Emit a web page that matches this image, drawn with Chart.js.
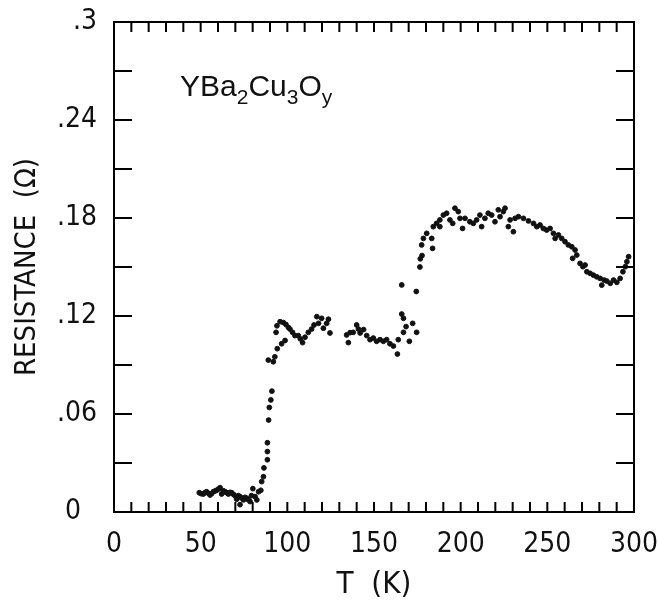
<!DOCTYPE html>
<html>
<head>
<meta charset="utf-8">
<script src="https://cdn.jsdelivr.net/npm/chart.js@4"></script>
<style>
  body { margin: 0; background: #fff; }
</style>
</head>
<body>
<canvas id="chart" width="658" height="604"></canvas>
<script>
// values: T (K) and resistance (ohm)
const temperature = [
  49.2, 50.3, 51.5, 52.4, 53.4, 54.4, 55.4, 56.3, 57.3, 58.2, 59.2, 60.2, 61.2, 62.1, 63.1, 64.1,
  65.0, 66.0, 67.0, 67.9, 68.9, 69.9, 70.8, 71.8, 72.7, 72.7, 73.7, 74.7, 75.6, 76.6, 77.5, 78.5,
  79.3, 80.1, 81.4, 82.4, 83.4, 84.7,
  85.2, 86.2, 86.5, 88.5, 88.5, 88.5, 89.2, 89.6, 90.5, 91.1, 89.0, 91.9, 92.8, 94.2, 96.7, 98.7,
  93.5, 94.0, 95.8, 97.7, 99.2, 100.6, 101.5, 103.0, 104.4, 106.3, 107.5, 108.8, 110.2, 112.1,
  114.0, 115.4, 117.0, 118.0, 119.8, 120.8, 122.7, 123.7, 124.6,
  134.2, 135.2, 136.2, 138.0, 140.0, 141.0, 142.0, 144.0, 145.8, 147.7, 149.6, 151.5, 153.5,
  155.4, 157.3, 159.2, 161.2, 163.5, 164.0, 166.0, 167.0, 168.5, 167.0, 170.4, 172.3, 174.6,
  166.0, 174.4,
  176.5, 176.7, 177.7, 177.5, 178.5, 180.4, 183.3, 183.8, 184.2, 186.1, 188.0, 188.0, 190.0,
  191.9, 193.8, 195.4, 196.7, 198.6, 199.6, 201.1, 202.5, 205.3, 207.3, 209.2, 211.1, 212.1,
  214.0, 215.9, 217.9, 219.8, 221.7, 222.7, 224.6, 225.6, 227.5, 228.5, 230.4, 231.4, 233.3,
  236.2, 239.1, 242.0, 243.9, 245.8, 247.7, 249.6, 251.6, 253.5, 254.5, 256.4, 258.3, 260.2,
  262.1, 264.1, 266.0, 264.6, 267.0, 268.9, 270.5, 271.8, 272.8, 274.7, 276.6, 278.5, 280.5,
  281.4, 282.8, 284.3, 286.3, 288.2, 290.1, 292.0, 293.6, 295.0, 295.9, 296.9
];
const resistance = [
  .0118, .0112, .0110, .0118, .0124, .0115, .0104, .0112, .0124, .0128, .0133, .0140, .0149, .0110, .0130, .0124,
  .0118, .0110, .0120, .0118, .0108, .0098, .0078, .0100, .0094, .0045, .0085, .0074, .0090, .0084, .0075, .0064,
  .0100, .0143, .0094, .0074, .0124, .0133,
  .0186, .0216, .0270, .0320, .0370, .0424, .0563, .0640, .0686, .0740, .0930, .0920, .0950, .1000, .1030, .1050,
  .1100, .1140, .1165, .1160, .1148, .1130, .1120, .1100, .1080, .1080, .1060, .1037, .1070, .1100,
  .1120, .1145, .1196, .1155, .1186, .1125, .1155, .1180, .1096,
  .1084, .1037, .1098, .1100, .1145, .1120, .1096, .1117, .1080, .1055, .1065, .1045, .1055,
  .1045, .1055, .1030, .1016, .0967, .1055, .1212, .1186, .1135, .1100, .1045, .1155, .1100,
  .1390, .1350,
  .1500, .1550, .1570, .1635, .1675, .1706, .1675, .1614, .1747, .1767, .1747, .1788, .1818,
  .1829, .1788, .1767, .1860, .1839, .1798, .1736, .1798, .1777, .1767, .1788, .1818, .1747,
  .1798, .1829, .1818, .1777, .1850, .1808, .1839, .1860, .1747, .1788, .1716, .1798, .1808,
  .1798, .1782, .1767, .1747, .1757, .1736, .1726, .1736, .1706, .1675, .1696, .1675, .1655,
  .1635, .1624, .1604, .1553, .1573, .1522, .1502, .1512, .1471, .1461, .1450, .1440, .1430,
  .1389, .1420, .1414, .1400, .1420, .1406, .1430, .1471, .1502, .1532, .1563
];

const xLabelStep = 50;
const yTickStep = 0.03;
const sampleName = [["Y", 0], ["Ba", 0], ["2", 1], ["Cu", 0], ["3", 1], ["O", 0], ["y", 1]];

const narrow = "'Liberation Sans Narrow', 'DejaVu Sans Condensed', sans-serif";

// frame with inward ticks on all four sides, plus the sample label
const frameTicks = {
  id: "frameTicks",
  afterDatasetsDraw(chart) {
    const { ctx, chartArea: a, scales } = chart;
    const { x, y } = scales;
    ctx.save();
    ctx.strokeStyle = "#000";
    ctx.lineWidth = 2;
    ctx.strokeRect(a.left, a.top, a.right - a.left, a.bottom - a.top);
    ctx.beginPath();
    x.ticks.forEach((t) => {
      const px = x.getPixelForValue(t.value);
      ctx.moveTo(px, a.bottom);
      ctx.lineTo(px, a.bottom - 10);
      ctx.moveTo(px, a.top);
      ctx.lineTo(px, a.top + 10);
    });
    y.ticks.forEach((t) => {
      const py = y.getPixelForValue(t.value);
      ctx.moveTo(a.left, py);
      ctx.lineTo(a.left + 18, py);
      ctx.moveTo(a.right, py);
      ctx.lineTo(a.right - 18, py);
    });
    ctx.stroke();

    // YBa2Cu3Oy with subscripts
    let tx = a.left + 66;
    const ty = a.top + 74;
    ctx.fillStyle = "#111";
    ctx.textBaseline = "alphabetic";
    sampleName.forEach(([s, sub]) => {
      ctx.font = (sub ? "21px" : "30px") + " 'Liberation Sans', sans-serif";
      ctx.fillText(s, tx, ty + (sub ? 8 : 0));
      tx += ctx.measureText(s).width;
    });
    ctx.restore();
  },
};

function yLabel(value) {
  const k = Math.round(value / yTickStep);
  if (k % 2 !== 0) return "";
  if (k === 0) return "0  ";
  return (k * yTickStep).toFixed(2).replace(/^0/, "").replace(/0$/, "");
}

new Chart(document.getElementById("chart").getContext("2d"), {
  type: "scatter",
  data: {
    datasets: [
      {
        label: "YBa2Cu3Oy",
        data: temperature.map((t, i) => ({ x: t, y: resistance[i] })),
        backgroundColor: "#111",
        borderColor: "#111",
        pointRadius: 2.4,
        borderWidth: 1,
      },
    ],
  },
  options: {
    responsive: false,
    animation: false,
    layout: { padding: { top: 22, right: 24, left: 0, bottom: 0 } },
    plugins: { legend: { display: false }, tooltip: { enabled: false } },
    scales: {
      x: {
        type: "linear",
        min: 0,
        max: 300,
        grid: { display: false },
        border: { display: false },
        afterFit: (scale) => {
          scale.height = 92;
          scale.paddingLeft = 0;
          scale.paddingRight = 0;
        },
        ticks: {
          stepSize: 10,
          padding: 8,
          autoSkip: false,
          maxRotation: 0,
          minRotation: 0,
          color: "#111",
          font: { family: narrow, size: 28 },
          callback: (v) => (v % xLabelStep === 0 ? String(v) : ""),
        },
        title: {
          display: true,
          text: "T  (K)",
          color: "#111",
          font: { family: narrow, size: 31 },
          padding: { top: 0, bottom: 0 },
        },
      },
      y: {
        min: 0,
        max: 0.3,
        grid: { display: false },
        border: { display: false },
        afterFit: (scale) => {
          scale.width = 114;
          scale.paddingTop = 0;
          scale.paddingBottom = 0;
        },
        ticks: {
          stepSize: yTickStep,
          padding: 9,
          autoSkip: false,
          color: "#111",
          font: { family: narrow, size: 28 },
          callback: yLabel,
        },
        title: {
          display: true,
          text: "RESISTANCE  (Ω)",
          color: "#111",
          font: { family: narrow, size: 29 },
          padding: { top: 10, bottom: 0 },
        },
      },
    },
  },
  plugins: [frameTicks],
});
</script>
</body>
</html>
